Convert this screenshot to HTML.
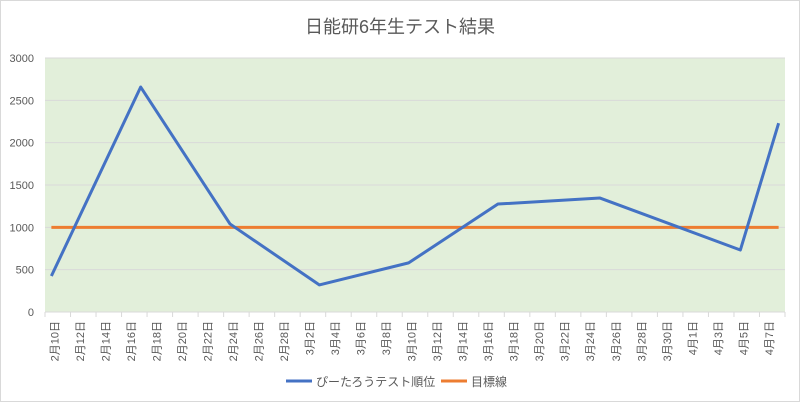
<!DOCTYPE html>
<html><head><meta charset="utf-8"><style>
body{margin:0;background:#fff;}
svg text{font-family:"Liberation Sans","Noto Sans CJK JP",sans-serif;fill:#595959;}
</style></head><body>
<svg width="800" height="402">
<rect x="0.5" y="0.5" width="799" height="401" fill="#fff" stroke="#d9d9d9"/>
<text x="400" y="33" text-anchor="middle" font-size="18">日能研6年生テスト結果</text>
<rect x="45" y="58" width="740" height="254" fill="#e2efda"/>
<g id="grid"></g><g id="yt"></g><g id="xt"></g><g id="series"></g>
<g>
<line x1="286" y1="381" x2="312" y2="381" stroke="#4472c4" stroke-width="3"/>
<text x="316" y="386" font-size="12">ぴーたろうテスト順位</text>
<line x1="441" y1="381" x2="467" y2="381" stroke="#ed7d31" stroke-width="3"/>
<text x="471" y="386" font-size="12">目標線</text>
</g>
</svg>
<script>
const dayOffsets=[0,7,14,21,28,35,43,54,57];
const rankValues=[425,2657,1040,320,580,1275,1346,732,2230];
const targetValue=1000;
const yTicks=[0,500,1000,1500,2000,2500,3000];
const tickLabels=["2月10日","2月12日","2月14日","2月16日","2月18日","2月20日","2月22日","2月24日","2月26日","2月28日","3月2日","3月4日","3月6日","3月8日","3月10日","3月12日","3月14日","3月16日","3月18日","3月20日","3月22日","3月24日","3月26日","3月28日","3月30日","4月1日","4月3日","4月5日","4月7日"];
const NS="http://www.w3.org/2000/svg";
const X0=45,X1=785,Y0=312,Y1=58,nDays=58;
const dw=(X1-X0)/nDays;
const x=d=>X0+dw*(d+0.5);
const y=v=>Y0-(v/3000)*(Y0-Y1);
function mk(t,a,p){const e=document.createElementNS(NS,t);for(const k in a)e.setAttribute(k,a[k]);p.appendChild(e);return e;}
const g=document.getElementById('grid'),yt=document.getElementById('yt'),xt=document.getElementById('xt'),s=document.getElementById('series');
yTicks.forEach(v=>{
 if(v>0){const l=mk('line',{x1:X0,x2:X1,y1:y(v),y2:y(v),stroke:'#d9d9d9','stroke-width':1},g);
 
 }
 const t=mk('text',{x:34,y:y(v)+4,'text-anchor':'end','font-size':11},yt);t.textContent=v;
 
 
});
const ax=mk('line',{x1:X0,x2:X1,y1:Y0,y2:Y0,stroke:'#d9d9d9'},xt);


for(let i=0;i<=nDays/2;i++){
 const tx=X0+i*2*dw;
 const tk=mk('line',{x1:tx,x2:tx,y1:Y0,y2:Y0+5,stroke:'#d9d9d9'},xt);
 
 
}
tickLabels.forEach((lb,i)=>{
 const cx=x(i*2)+7;
 const t=mk('text',{x:cx,y:Y0+9,'font-size':11,'text-anchor':'end',transform:`rotate(-90 ${cx} ${Y0+9})`},xt);
 t.textContent=lb;
 
 
});
const tl=mk('line',{x1:x(0),x2:x(57),y1:y(targetValue),y2:y(targetValue),stroke:'#ed7d31','stroke-width':3},s);


const pl=mk('polyline',{points:dayOffsets.map((d,i)=>x(d)+','+y(rankValues[i])).join(' '),fill:'none',stroke:'#4472c4','stroke-width':3,'stroke-linejoin':'round'},s);


</script>
</body></html>
